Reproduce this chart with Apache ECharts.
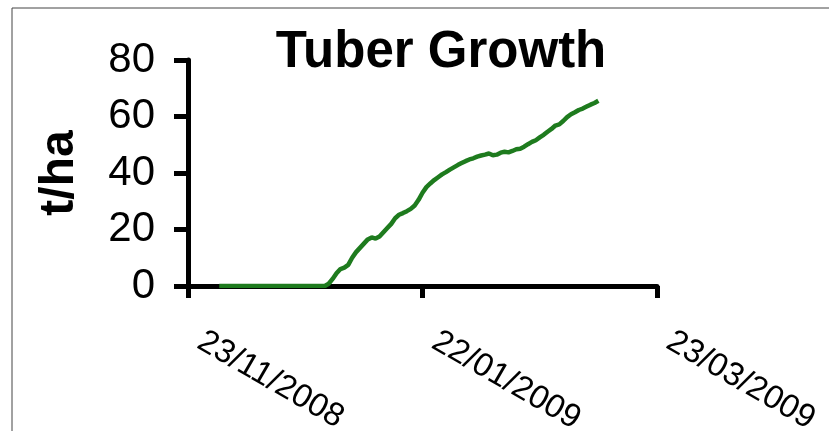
<!DOCTYPE html>
<html>
<head>
<meta charset="utf-8">
<title>Tuber Growth</title>
<script src="https://cdn.jsdelivr.net/npm/echarts@6/dist/echarts.min.js"></script>
<style>
  html, body { margin: 0; padding: 0; background: #fff; }
  #chart { width: 829px; height: 431px; }
</style>
</head>
<body>
<div id="chart"></div>
<script>
// Day 0 of the season; x values are days counted from this date.
const seasonStart = [2008, 10, 23]; // 23 Nov 2008 (month is 0-based)

// Days after season start at which tuber yield was recorded.
const days = [
  8, 15, 22, 29, 35, 36, 37, 38, 39, 40, 41, 42, 43, 44, 45, 46, 47, 48, 49, 50,
  51, 52, 53, 54, 55, 56, 57, 58, 59, 60, 61, 62, 63, 64, 65, 66, 67, 68, 69, 70,
  71, 72, 73, 74, 75, 76, 77, 78, 79, 80, 81, 82, 83, 84, 85, 86, 87, 88, 89, 90,
  91, 92, 93, 94, 95, 96, 97, 98, 99, 100, 101, 102, 103, 104, 105
];

// Tuber yield, t/ha
const tuberYield = [
  0, 0, 0, 0, 0, 0.8, 2.5, 4.5, 6, 6.5, 7.5, 10, 12, 13.5, 15, 16.5, 17.2, 16.8, 17.5, 19,
  20.5, 22, 24, 25.2, 25.8, 26.5, 27.3, 28.5, 30.5, 33, 35, 36.3, 37.5, 38.5, 39.5, 40.3, 41.2, 42, 42.8, 43.5,
  44.2, 44.8, 45.2, 45.8, 46.2, 46.5, 46.9, 46.3, 46.5, 47.2, 47.5, 47.3, 47.8, 48.4, 48.6, 49.3, 50.2, 51, 51.6, 52.6,
  53.5, 54.6, 55.6, 56.8, 57.2, 58.4, 59.8, 60.8, 61.5, 62.3, 62.8, 63.5, 64.2, 64.8, 65.6
];

// Axis ranges
const xDayMax = 120;
const xDayStep = 60;
const yMin = 0, yMax = 80, yStep = 20;

function dayToLabel(d) {
  const t = new Date(Date.UTC(seasonStart[0], seasonStart[1], seasonStart[2]) + d * 86400000);
  const dd = String(t.getUTCDate()).padStart(2, '0');
  const mm = String(t.getUTCMonth() + 1).padStart(2, '0');
  return dd + '/' + mm + '/' + t.getUTCFullYear();
}

const points = days.map((d, i) => [d, tuberYield[i]]);

const chart = echarts.init(document.getElementById('chart'), null, { renderer: 'canvas' });
const FONT = '"Liberation Sans", Arial, sans-serif';

chart.setOption({
  animation: false,
  backgroundColor: '#ffffff',
  title: {
    text: 'Tuber Growth',
    left: 436,
    top: 22,
    textAlign: 'center',
    textStyle: { fontFamily: FONT, fontWeight: 'bold', fontSize: 51, color: '#000' }
  },
  graphic: [{
    type: 'rect',
    shape: { x: 12, y: 8, width: 900, height: 500 },
    style: { fill: 'none', stroke: '#444', lineWidth: 1 },
    silent: true
  }],
  grid: {
    left: 188, right: 172, top: 60, bottom: 145,
    containLabel: false,
    outerBoundsMode: 'none'
  },
  xAxis: {
    type: 'value',
    min: 0,
    max: xDayMax,
    interval: xDayStep,
    splitLine: { show: false },
    axisLine: { show: true, onZero: false, lineStyle: { color: '#000', width: 5 } },
    axisTick: { show: true, inside: false, length: 12, lineStyle: { color: '#000', width: 5 } },
    axisLabel: {
      rotate: -30,
      margin: 46,
      padding: [0, 0, 0, 14],
      fontFamily: FONT,
      fontSize: 33,
      color: '#000',
      formatter: v => dayToLabel(v)
    }
  },
  yAxis: {
    type: 'value',
    min: yMin,
    max: yMax,
    interval: yStep,
    name: 't/ha',
    nameLocation: 'middle',
    nameGap: 104,
    nameRotate: 90,
    nameTextStyle: { fontFamily: FONT, fontWeight: 'bold', fontSize: 48, color: '#000' },
    splitLine: { show: false },
    axisLine: { show: true, lineStyle: { color: '#000', width: 5 } },
    axisTick: { show: true, inside: false, length: 14, lineStyle: { color: '#000', width: 5 } },
    axisLabel: { margin: 33, fontFamily: FONT, fontSize: 42, color: '#000' }
  },
  series: [{
    type: 'line',
    data: points,
    showSymbol: false,
    smooth: false,
    lineStyle: { color: '#1e7b1e', width: 4.5 },
    z: 3
  }]
});
</script>
</body>
</html>
